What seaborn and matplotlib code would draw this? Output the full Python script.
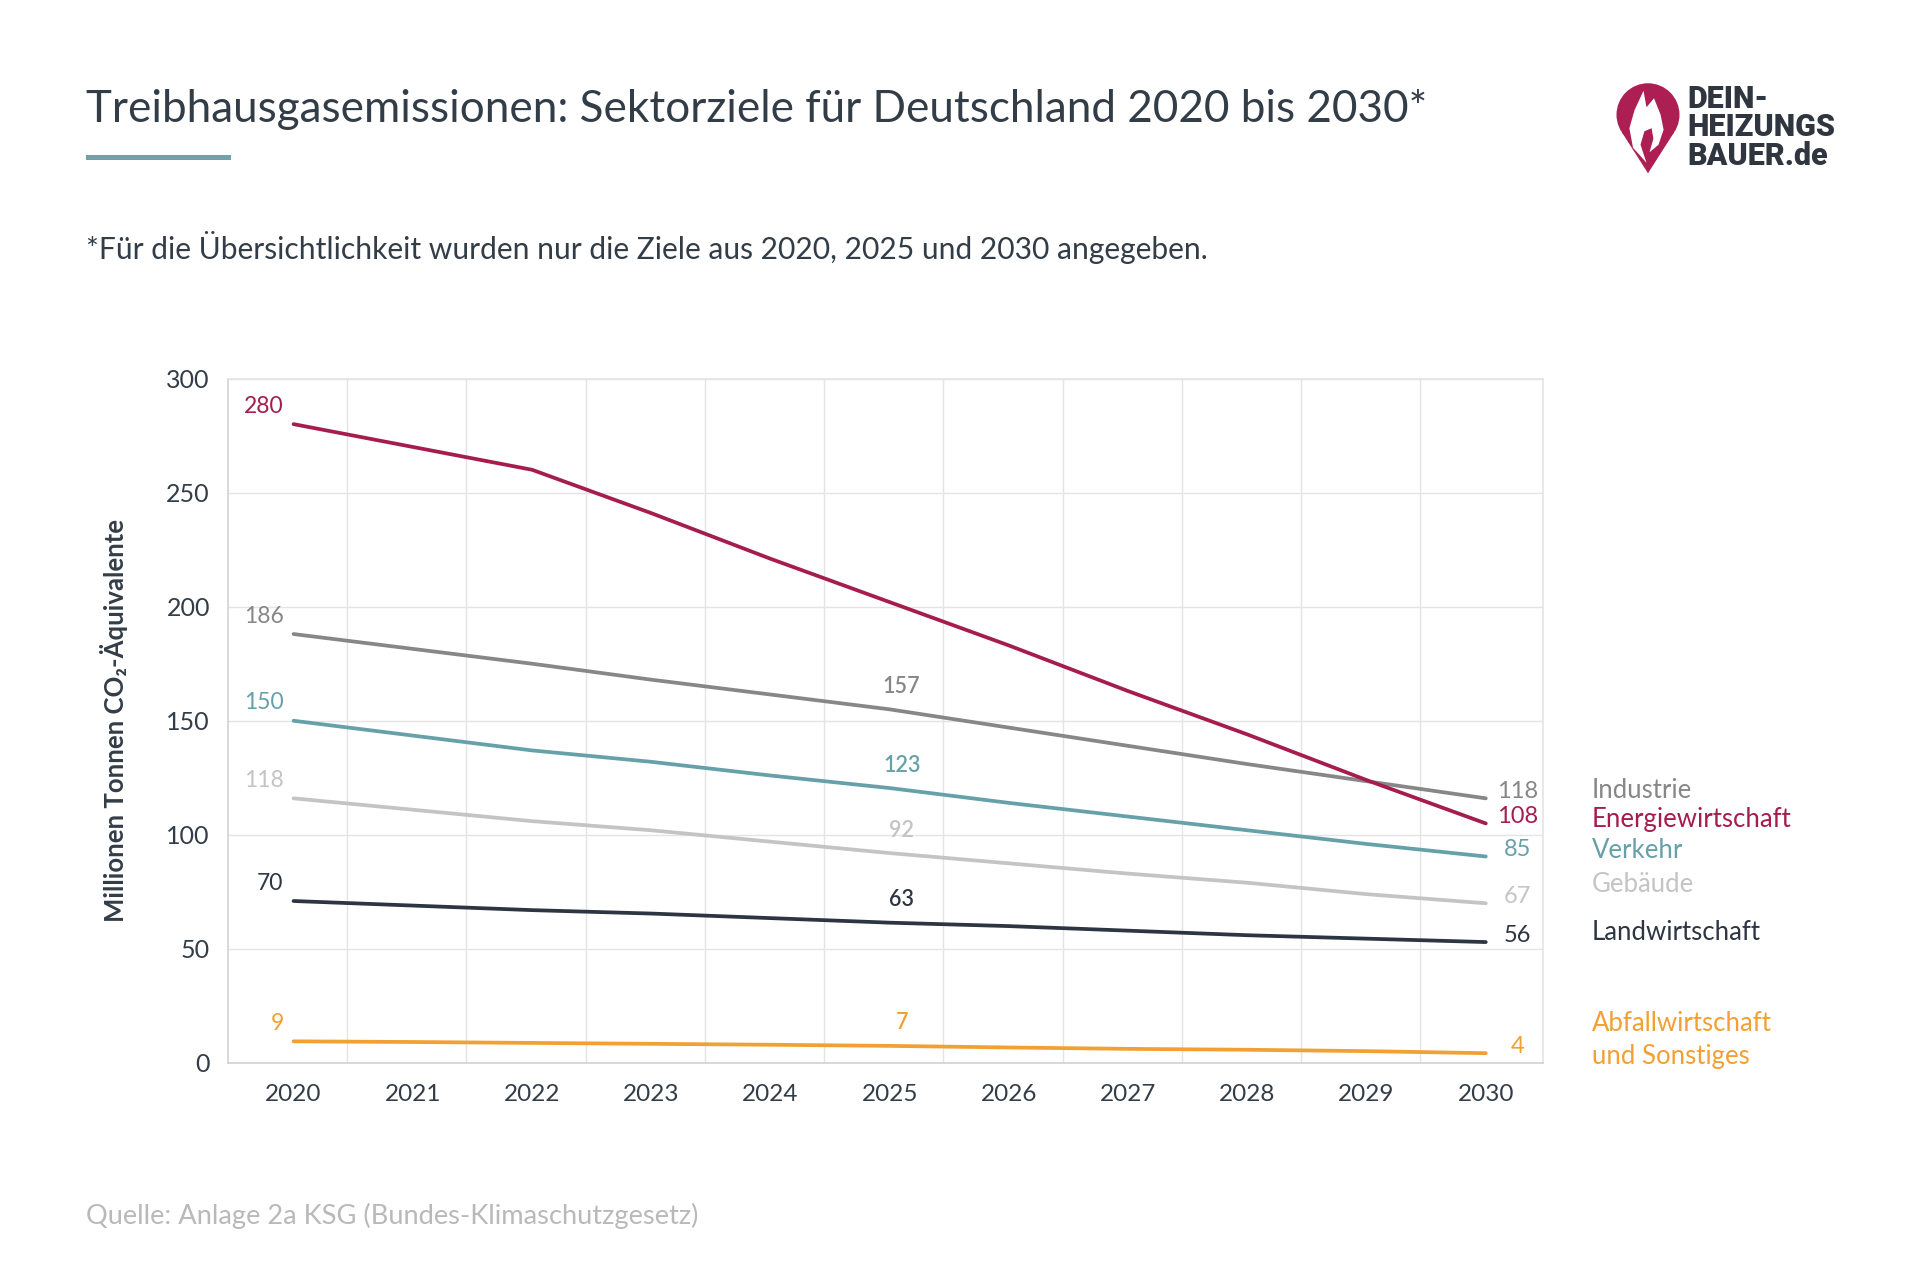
import pandas as pd
import matplotlib.pyplot as plt
import seaborn as sns
from matplotlib.patches import Circle, Polygon, Rectangle

jahre = list(range(2020, 2031))

sektoren = ["Industrie", "Energiewirtschaft", "Verkehr", "Gebäude",
            "Landwirtschaft", "Abfallwirtschaft\nund Sonstiges"]

industrie = [188, 181.5, 175, 168, 161.5, 155, 147, 139, 131, 123.5, 116]
energiewirtschaft = [280, 270, 260, 241, 221, 202, 183, 163, 144, 124, 105]
verkehr = [150, 143.5, 137, 132, 126, 120.5, 114, 108, 102, 96, 90.5]
gebaeude = [116, 111, 106, 102, 97, 92, 87.5, 83, 79, 74, 70]
landwirtschaft = [71, 69, 67, 65.5, 63.5, 61.5, 60, 58, 56, 54.5, 53]
abfall = [9.5, 9.2, 8.8, 8.4, 8, 7.5, 6.8, 6.2, 5.8, 5.2, 4.3]

# beschriftete Ziele
ziele_2020 = [186, 280, 150, 118, 70, 9]
ziele_2025 = [157, None, 123, 92, 63, 7]
ziele_2030 = [118, 108, 85, 67, 56, 4]

farben = ["#878787", "#a51d4f", "#66a1a9", "#c4c4c4", "#2c3541", "#f2a033"]

werte = [industrie, energiewirtschaft, verkehr, gebaeude, landwirtschaft, abfall]
df = pd.DataFrame({
    "Jahr": jahre * len(sektoren),
    "Sektor": [s for s in sektoren for _ in jahre],
    "Emissionen": [v for reihe in werte for v in reihe],
})
palette = dict(zip(sektoren, farben))

sns.set_theme(style="white")
plt.rcParams["font.family"] = ["Lato", "DejaVu Sans"]

dunkel = "#333d47"
fig = plt.figure(figsize=(19.2, 12.8), dpi=100)
ax = fig.add_axes([228 / 1920, 1 - 1063 / 1280, 1315 / 1920, 684.5 / 1280])

sns.lineplot(data=df, x="Jahr", y="Emissionen", hue="Sektor", palette=palette,
             hue_order=sektoren, linewidth=2.7, legend=False, ax=ax)

ax.set_xlim(2019.45, 2030.48)
ax.set_ylim(0, 300)
ax.set_xticks(jahre)
ax.set_xticks([j + 0.45 for j in jahre[:-1]], minor=True)
ax.set_yticks(range(0, 301, 50))
ax.grid(True, which="minor", axis="x", color="#e4e4e4", linewidth=1)
ax.grid(True, which="major", axis="y", color="#e4e4e4", linewidth=1)
ax.tick_params(which="both", length=0)
ax.tick_params(axis="y", labelsize=18, labelcolor=dunkel, pad=13)
ax.tick_params(axis="x", labelsize=17.5, labelcolor=dunkel, pad=15)
for seite in ["top", "right"]:
    ax.spines[seite].set_color("#e4e4e4")
for seite in ["left", "bottom"]:
    ax.spines[seite].set_color("#d2d2d2")
for sp in ax.spines.values():
    sp.set_linewidth(1.2)
ax.set_xlabel("")
ax.set_ylabel("Millionen Tonnen CO₂-Äquivalente", fontsize=18.5, fontweight="bold",
              color=dunkel)
ax.yaxis.set_label_coords(-0.087, 0.5)
ax.yaxis.label.set_va("center")

# Werte an den Linien
for reihe, z20, z25, z30, farbe in zip(werte, ziele_2020, ziele_2025, ziele_2030, farben):
    ax.annotate(str(z20), xy=(jahre[0], reihe[0]), xytext=(-10, 18),
                textcoords="offset pixels", ha="right", va="center",
                fontsize=16.5, color=farbe)
    if z25 is not None:
        ax.annotate(str(z25), xy=(jahre[5], reihe[5]), xytext=(12, 23),
                    textcoords="offset pixels", ha="center", va="center",
                    fontsize=15.5, color=farbe, fontweight="semibold")
    ax.annotate(str(z30), xy=(jahre[-1], reihe[-1]), xytext=(32, 7),
                textcoords="offset pixels", ha="center", va="center",
                fontsize=17, color=farbe)

# Beschriftung rechts
legende_y = [790, 819, 851, 885, 932, 1040]
for name, farbe, y in zip(sektoren, farben, legende_y):
    fig.text(1592 / 1920, 1 - y / 1280, name, ha="left", va="center",
             fontsize=18.5, color=farbe, linespacing=1.4)

# Titel, Linie, Untertitel, Quelle
fig.text(86 / 1920, 1 - 109 / 1280,
         "Treibhausgasemissionen: Sektorziele für Deutschland 2020 bis 2030*",
         ha="left", va="center", fontsize=31.7, color=dunkel)
fig.add_artist(Rectangle((86 / 1920, 1 - 160 / 1280), 145 / 1920, 5 / 1280,
                         transform=fig.transFigure, color="#6fa3ab", lw=0))
fig.text(86 / 1920, 1 - 248 / 1280,
         "*Für die Übersichtlichkeit wurden nur die Ziele aus 2020, 2025 und 2030 angegeben.",
         ha="left", va="center", fontsize=21.6, color=dunkel)
fig.text(86 / 1920, 1 - 1216 / 1280,
         "Quelle: Anlage 2a KSG (Bundes-Klimaschutzgesetz)",
         ha="left", va="center", fontsize=19.6, color="#b9b9b9")

# Logo
logo = fig.add_axes([1612 / 1920, 1 - 175 / 1280, 72 / 1920, 98 / 1280])
logo.set_xlim(-1.2, 1.2)
logo.set_ylim(-2.0, 1.25)
logo.set_aspect("equal")
logo.axis("off")
rot = "#ad1e52"
logo.add_patch(Circle((0, 0), 1.05, color=rot, lw=0))
logo.add_patch(Polygon([(-0.88, -0.57), (0.88, -0.57), (0, -1.95)], color=rot, lw=0))
flamme = [(-0.05, -1.6), (-0.5, -1.1), (-0.62, -0.45), (-0.45, 0.15), (-0.15, 0.8),
          (-0.05, 0.25), (0.2, 0.55), (0.42, 0.0), (0.52, -0.5), (0.35, -1.0),
          (0.05, -1.25), (0.18, -0.8), (0.12, -0.45), (-0.12, -0.55), (-0.25, -1.0)]
logo.add_patch(Polygon(flamme, color="white", lw=0))

logo_font = ["Roboto", "DejaVu Sans"]
for zeile, y in zip(["DEIN-", "HEIZUNGS", "BAUER.de"], [99, 127, 156]):
    fig.text(1687 / 1920, 1 - y / 1280, zeile, ha="left", va="center", fontsize=22,
             fontweight="heavy", color="#2f3640", family=logo_font)

fig.savefig("out.png", dpi=100, facecolor="white")
